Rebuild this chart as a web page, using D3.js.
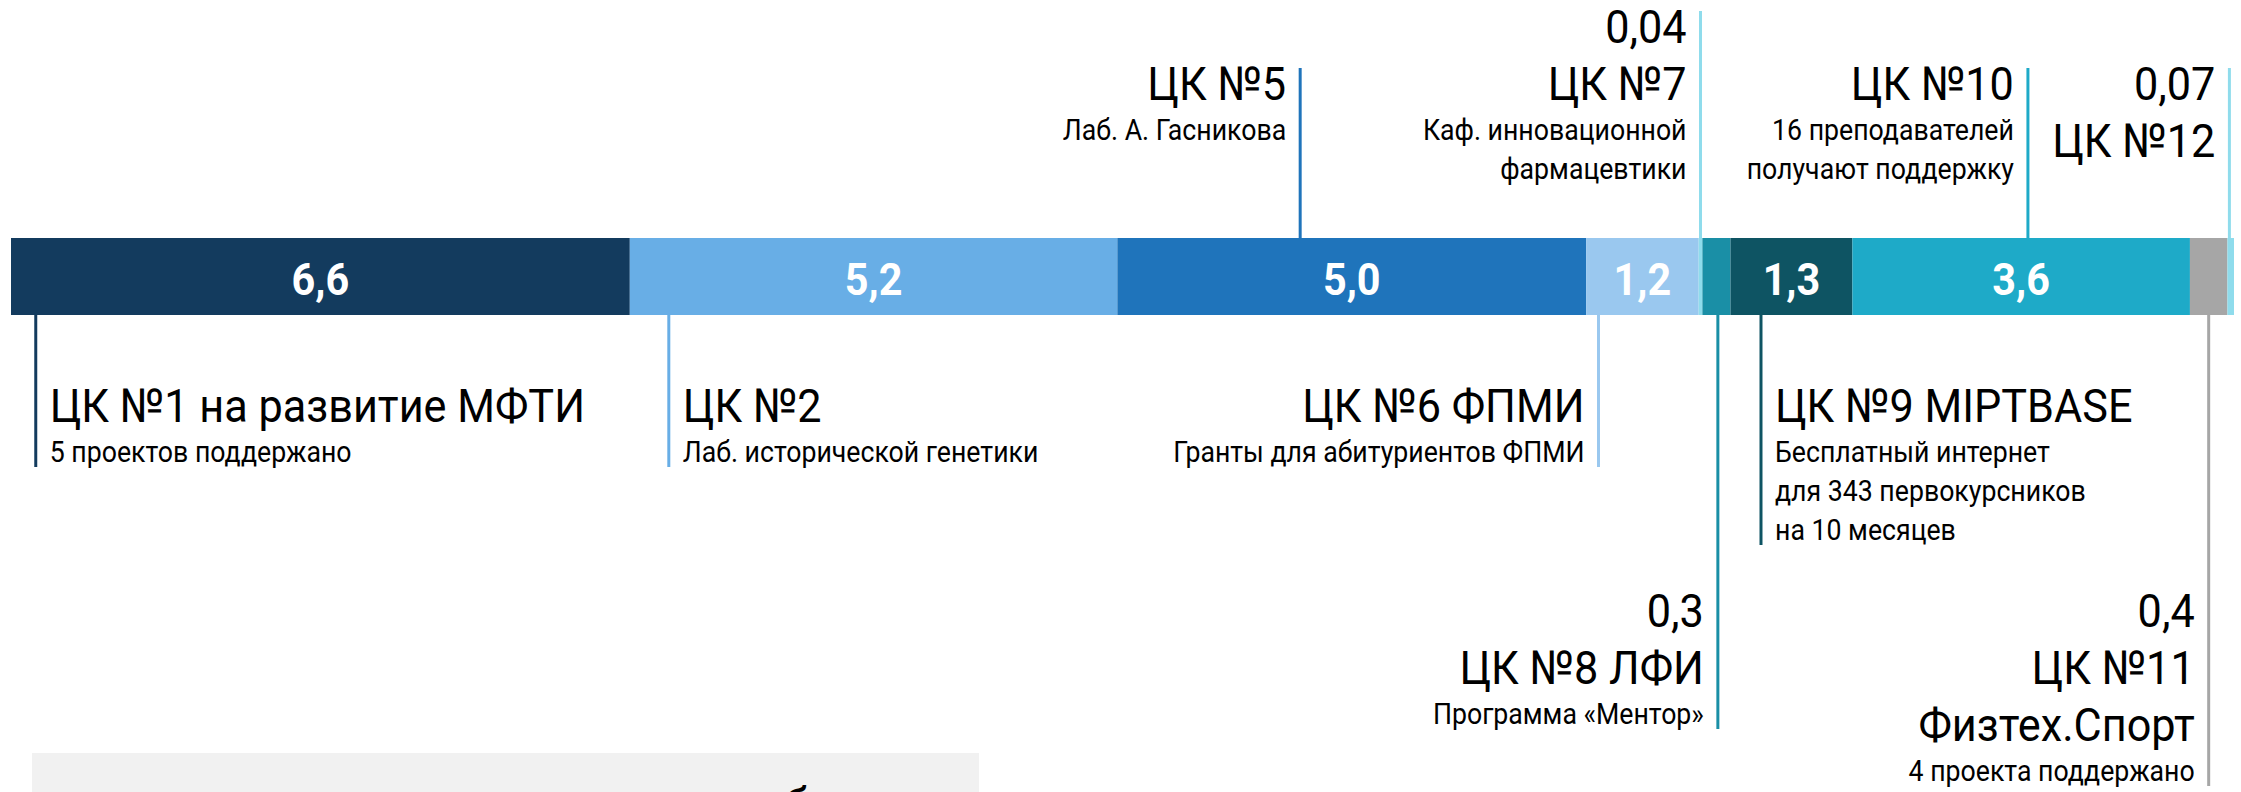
<!DOCTYPE html>
<html>
<head>
<meta charset="utf-8">
<script src="https://cdn.jsdelivr.net/npm/d3@7/dist/d3.min.js"></script>
<style>
  body { margin: 0; background: #fff; }
  svg { display: block; font-family: Roboto, "Noto Sans", sans-serif; }
</style>
</head>
<body>
<svg id="chart"></svg>
<script>
// the centres, in the order they sit on the bar
var names = ["ЦК1", "ЦК2", "ЦК5", "ЦК6", "ЦК7", "ЦК8", "ЦК9", "ЦК10", "ЦК11", "ЦК12"];
var values = [6.6, 5.2, 5.0, 1.2, 0.04, 0.3, 1.3, 3.6, 0.4, 0.07];
var valueText = ["6,6", "5,2", "5,0", "1,2", "0,04", "0,3", "1,3", "3,6", "0,4", "0,07"];
var titles = [
  ["ЦК №1 на развитие МФТИ"],
  ["ЦК №2"],
  ["ЦК №5"],
  ["ЦК №6 ФПМИ"],
  ["ЦК №7"],
  ["ЦК №8 ЛФИ"],
  ["ЦК №9 MIPTBASE"],
  ["ЦК №10"],
  ["ЦК №11", "Физтех.Спорт"],
  ["ЦК №12"]
];
var notes = [
  ["5 проектов поддержано"],
  ["Лаб. исторической генетики"],
  ["Лаб. А. Гасникова"],
  ["Гранты для абитуриентов ФПМИ"],
  ["Каф. инновационной", "фармацевтики"],
  ["Программа «Ментор»"],
  ["Бесплатный интернет", "для 343 первокурсников", "на 10 месяцев"],
  ["16 преподавателей", "получают поддержку"],
  ["4 проекта поддержано"],
  []
];
var colors = ["#133b5e", "#68aee6", "#1f74bb", "#9ac8ef", "#8fdcec",
              "#1a8fa6", "#0e5463", "#1eaac8", "#a6a6a6", "#8fdcec"];

// where each callout goes: side of the bar, first baseline, text anchor,
// leader position as a share of the segment width
var layout = {
  "ЦК1":  {side: "bottom", y: 422, anchor: "start", at: 0.04},
  "ЦК2":  {side: "bottom", y: 422, anchor: "start", at: 0.08},
  "ЦК5":  {side: "top",    y: 100, anchor: "end",   at: 0.39},
  "ЦК6":  {side: "bottom", y: 422, anchor: "end",   at: 0.11},
  "ЦК7":  {side: "top",    y: 43,  anchor: "end",   at: 0.5},
  "ЦК8":  {side: "bottom", y: 627, anchor: "end",   at: 0.55},
  "ЦК9":  {side: "bottom", y: 422, anchor: "start", at: 0.25},
  "ЦК10": {side: "top",    y: 100, anchor: "end",   at: 0.52},
  "ЦК11": {side: "bottom", y: 627, anchor: "end",   at: 0.5},
  "ЦК12": {side: "top",    y: 100, anchor: "end",   at: 0.3}
};

var W = 2241, H = 792;
var barTop = 238, barBottom = 315;
// the original face is a narrow DIN; squeeze Roboto sideways to match
var bigSqueeze = 0.92, smallSqueeze = 0.89;

var svg = d3.select("#chart").attr("width", W).attr("height", H);

var starts = [0];
values.forEach(function(v, i){ starts.push(starts[i] + v); });
var total = starts[starts.length - 1];

var x = d3.scaleLinear().domain([0, total]).range([11, 2234]);

var items = names.map(function(n, i){
  return {name: n, value: values[i], text: valueText[i], start: starts[i],
          titles: titles[i], notes: notes[i], color: colors[i], lay: layout[n]};
});

// bar segments
svg.selectAll("rect.seg")
  .data(items)
  .enter().append("rect")
    .attr("class", "seg")
    .attr("x", function(d){ return x(d.start); })
    .attr("y", barTop)
    .attr("width", function(d){ return x(d.start + d.value) - x(d.start); })
    .attr("height", barBottom - barTop)
    .attr("fill", function(d){ return d.color; });

// values inside the bar, only where there is room
var inBar = items.filter(function(d){ return x(d.start + d.value) - x(d.start) > 80; });
svg.selectAll("text.val")
  .data(inBar)
  .enter().append("text")
    .attr("class", "val")
    .attr("transform", function(d){
      return "translate(" + (x(d.start) + x(d.start + d.value)) / 2 + ",295) scale(" + bigSqueeze + ",1)";
    })
    .attr("text-anchor", "middle")
    .attr("fill", "#fff")
    .attr("font-size", 45)
    .attr("font-weight", 700)
    .text(function(d){ return d.text; });

// callouts
items.forEach(function(d){
  var lay = d.lay;
  var lx = x(d.start) + lay.at * (x(d.start + d.value) - x(d.start));
  var lines = [];
  if (inBar.indexOf(d) < 0) lines.push({t: d.text, big: true});
  d.titles.forEach(function(t){ lines.push({t: t, big: true}); });
  d.notes.forEach(function(t){ lines.push({t: t, big: false}); });

  var y = lay.y;
  lines.forEach(function(l, i){
    if (i > 0) y += l.big ? 57 : (lines[i - 1].big ? 40 : 39);
    l.y = y;
  });
  var lastY = lines[lines.length - 1].y;

  var y1 = lay.side == "top" ? lay.y - 32 : barBottom;
  var y2 = lay.side == "top" ? barTop : lastY + 5;
  svg.append("line")
    .attr("x1", lx).attr("x2", lx)
    .attr("y1", y1).attr("y2", y2)
    .attr("stroke", d.color)
    .attr("stroke-width", 3);

  var tx = lay.anchor == "end" ? lx - 14 : lx + 14;
  svg.selectAll(null)
    .data(lines)
    .enter().append("text")
      .attr("transform", function(l){
        return "translate(" + tx + "," + l.y + ") scale(" + (l.big ? bigSqueeze : smallSqueeze) + ",1)";
      })
      .attr("text-anchor", lay.anchor)
      .attr("font-size", function(l){ return l.big ? 47 : 30; })
      .attr("fill", "#000")
      .text(function(l){ return l.t; });
});

// grey box peeking in at the bottom
svg.append("rect")
  .attr("x", 32).attr("y", 753)
  .attr("width", 947).attr("height", 60)
  .attr("fill", "#f1f1f1");
svg.append("text")
  .attr("x", 783).attr("y", 822)
  .attr("font-size", 48)
  .attr("fill", "#000")
  .text("б");
</script>
</body>
</html>
